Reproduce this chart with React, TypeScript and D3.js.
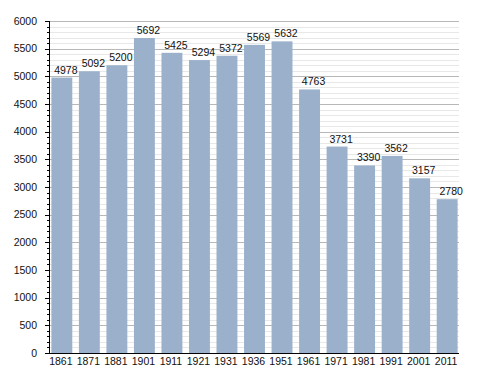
import React, { useRef, useEffect } from 'react';
import * as d3 from 'd3';

const years = ['1861', '1871', '1881', '1901', '1911', '1921', '1931', '1936', '1951', '1961', '1971', '1981', '1991', '2001', '2011'];
const population = [4978, 5092, 5200, 5692, 5425, 5294, 5372, 5569, 5632, 4763, 3731, 3390, 3562, 3157, 2780];
const yTicks = [0, 500, 1000, 1500, 2000, 2500, 3000, 3500, 4000, 4500, 5000, 5500, 6000];

const App: React.FC = () => {
  const ref = useRef<SVGSVGElement | null>(null);

  useEffect(() => {
    if (!ref.current) return;
    const width = 488;
    const height = 373;
    const margin = { top: 21, right: 29, bottom: 20, left: 50 };
    const innerW = width - margin.left - margin.right;
    const innerH = height - margin.top - margin.bottom;
    const font = 'Liberation Sans, Arial, sans-serif';

    const svg = d3.select(ref.current);
    svg.selectAll('*').remove();
    const g = svg.append('g').attr('transform', `translate(${margin.left},${margin.top})`);

    const x = d3.scaleBand()
      .domain(years)
      .range([0, innerW])
      .paddingInner(0.24)
      .paddingOuter(0.05);

    const y = d3.scaleLinear().domain([0, 6000]).range([innerH, 0]);

    // minor grid lines every 100
    const minor = d3.range(100, 6001, 100).filter((v) => v % 500 !== 0);
    g.selectAll('line.minor')
      .data(minor)
      .enter()
      .append('line')
      .attr('x1', 0)
      .attr('x2', innerW)
      .attr('y1', (d) => Math.round(y(d)) + 0.5)
      .attr('y2', (d) => Math.round(y(d)) + 0.5)
      .attr('stroke', '#e8e8e8')
      .attr('stroke-width', 1);

    // major grid lines every 500
    g.selectAll('line.major')
      .data(yTicks.filter((v) => v > 0))
      .enter()
      .append('line')
      .attr('x1', 0)
      .attr('x2', innerW)
      .attr('y1', (d) => Math.round(y(d)) + 0.5)
      .attr('y2', (d) => Math.round(y(d)) + 0.5)
      .attr('stroke', '#b8b8b8')
      .attr('stroke-width', 1);

    // bars
    g.selectAll('rect')
      .data(population)
      .enter()
      .append('rect')
      .attr('x', (d, i) => x(years[i]) || 0)
      .attr('y', (d) => y(d))
      .attr('width', x.bandwidth())
      .attr('height', (d) => innerH - y(d))
      .attr('fill', '#9bb1cb');

    // value labels
    g.selectAll('text.val')
      .data(population)
      .enter()
      .append('text')
      .attr('x', (d, i) => (x(years[i]) || 0) + x.bandwidth() / 2 + 4)
      .attr('y', (d) => y(d) - 4)
      .attr('text-anchor', 'middle')
      .style('font-family', font)
      .style('font-size', '10.5px')
      .attr('fill', '#111')
      .text((d) => d);

    // y axis
    const yAxis = g.append('g');
    yAxis.append('line')
      .attr('x1', -0.5).attr('x2', -0.5)
      .attr('y1', 0).attr('y2', innerH)
      .attr('stroke', '#000');
    yAxis.selectAll('line.tmin')
      .data(minor)
      .enter()
      .append('line')
      .attr('x1', -3).attr('x2', 0)
      .attr('y1', (d) => Math.round(y(d)) + 0.5)
      .attr('y2', (d) => Math.round(y(d)) + 0.5)
      .attr('stroke', '#000');
    yAxis.selectAll('line.tmaj')
      .data(yTicks)
      .enter()
      .append('line')
      .attr('x1', -5).attr('x2', 0)
      .attr('y1', (d) => Math.round(y(d)) + 0.5)
      .attr('y2', (d) => Math.round(y(d)) + 0.5)
      .attr('stroke', '#000');
    yAxis.selectAll('text')
      .data(yTicks)
      .enter()
      .append('text')
      .attr('x', -13)
      .attr('y', (d) => y(d))
      .attr('dy', '0.35em')
      .attr('text-anchor', 'end')
      .style('font-family', font)
      .style('font-size', '10.5px')
      .attr('fill', '#111')
      .text((d) => d);

    // x axis
    const xAxis = g.append('g').attr('transform', `translate(0,${innerH})`);
    xAxis.append('line')
      .attr('x1', -1).attr('x2', innerW)
      .attr('y1', 0.5).attr('y2', 0.5)
      .attr('stroke', '#000');
    xAxis.selectAll('text')
      .data(years)
      .enter()
      .append('text')
      .attr('x', (d) => (x(d) || 0) + x.bandwidth() / 2 - 1)
      .attr('y', 11.5)
      .attr('text-anchor', 'middle')
      .style('font-family', font)
      .style('font-size', '10.5px')
      .attr('fill', '#111')
      .text((d) => d);
  }, []);

  return (
    <svg ref={ref} width={488} height={373} style={{ position: 'absolute', left: 0, top: 0, background: '#fff' }} />
  );
};

export default App;
